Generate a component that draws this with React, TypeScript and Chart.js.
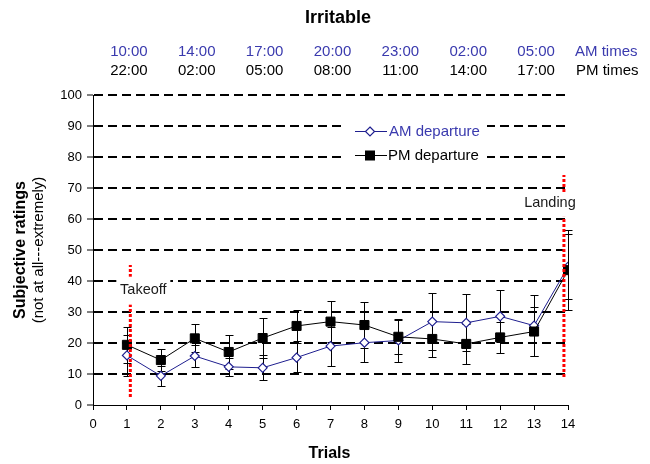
import React, { useEffect, useRef } from 'react';
import { Chart, registerables } from 'chart.js';

Chart.register(...registerables);

const FONT = "'Liberation Sans', Arial, Helvetica, sans-serif";
const AM_LINE = '#1f1f8f';
const AM_TEXT = '#3a3aae';

const chartTitle = 'Irritable';
const xTitle = 'Trials';
const yTitle = 'Subjective ratings';
const ySubTitle = '(not at all---extremely)';

const trials = [1, 2, 3, 4, 5, 6, 7, 8, 9, 10, 11, 12, 13, 14];
const amValues = [16, 9.4, 15.8, 12.3, 12, 15.3, 19, 20.1, 20.8, 26.9, 26.5, 28.6, 25.6, 44.6];
const amErrors = [6.5, 3.3, 3.5, 2.9, 4, 4.6, 6.3, 6.2, 7, 9.2, 9.2, 8.4, 9.8, 10.5];
const pmValues = [19.4, 14.5, 21.5, 17.1, 21.6, 25.5, 26.9, 25.8, 22, 21.3, 19.7, 21.8, 23.7, 43.5];
const pmErrors = [5.9, 3.5, 4.5, 5.5, 6.4, 5, 6.6, 7.4, 5.4, 5.8, 6.5, 5, 8, 13];

const timeTrials = [1, 3, 5, 7, 9, 11, 13];
const amTimes = ['10:00', '14:00', '17:00', '20:00', '23:00', '02:00', '05:00'];
const pmTimes = ['22:00', '02:00', '05:00', '08:00', '11:00', '14:00', '17:00'];
const amTimesLabel = 'AM times';
const pmTimesLabel = 'PM times';

const takeoffLabel = 'Takeoff';
const takeoffX = 1.1;
const takeoffSpan = [2.6, 45.2];
const landingLabel = 'Landing';
const landingX = 13.88;
const landingSpan = [9, 74.2];

const amLegend = 'AM departure';
const pmLegend = 'PM departure';

export default function App() {
  const ref = useRef<HTMLCanvasElement>(null);

  useEffect(() => {
    const canvas = ref.current;
    if (!canvas) return;
    const xy = (vals: number[]) => vals.map((v, i) => ({ x: trials[i], y: v }));

    const drawErr = (ctx: CanvasRenderingContext2D, xs: any, ys: any, vals: number[], errs: number[]) => {
      ctx.save();
      ctx.strokeStyle = '#000';
      ctx.lineWidth = 1;
      ctx.setLineDash([]);
      for (let i = 0; i < vals.length; i++) {
        const x = Math.round(xs.getPixelForValue(trials[i])) + 0.5;
        const t = Math.round(ys.getPixelForValue(vals[i] + errs[i])) + 0.5;
        const b = Math.round(ys.getPixelForValue(vals[i] - errs[i])) + 0.5;
        ctx.beginPath();
        ctx.moveTo(x, t);
        ctx.lineTo(x, b);
        ctx.moveTo(x - 4, t);
        ctx.lineTo(x + 4, t);
        ctx.moveTo(x - 4, b);
        ctx.lineTo(x + 4, b);
        ctx.stroke();
      }
      ctx.restore();
    };

    const overlay = {
      id: 'overlay',
      beforeDatasetsDraw(chart: any) {
        const ctx = chart.ctx;
        const xs = chart.scales.x;
        const ys = chart.scales.y;
        drawErr(ctx, xs, ys, amValues, amErrors);
        drawErr(ctx, xs, ys, pmValues, pmErrors);
      },
      afterDatasetsDraw(chart: any) {
        const ctx: CanvasRenderingContext2D = chart.ctx;
        const xs = chart.scales.x;
        const ys = chart.scales.y;
        ctx.save();
        ctx.font = `14.5px ${FONT}`;
        ctx.textBaseline = 'middle';
        ctx.textAlign = 'center';
        const tx = xs.getPixelForValue(takeoffX) + 13;
        const ty = ys.getPixelForValue(37.2);
        ctx.fillStyle = '#fff';
        ctx.fillRect(tx - 27, ty - 13, 54, 28);
        ctx.fillStyle = '#1a1a1a';
        ctx.fillText(takeoffLabel, tx, ty);
        const lx = xs.getPixelForValue(landingX) - 14;
        const ly = ys.getPixelForValue(65.2);
        ctx.fillStyle = '#fff';
        ctx.fillRect(lx - 29, ly - 10, 58, 24);
        ctx.fillStyle = '#1a1a1a';
        ctx.fillText(landingLabel, lx, ly);

        // legend
        ctx.fillStyle = '#fff';
        ctx.fillRect(345, 116, 142, 50);
        ctx.lineWidth = 1;
        ctx.strokeStyle = AM_LINE;
        ctx.beginPath();
        ctx.moveTo(355, 131.5);
        ctx.lineTo(387, 131.5);
        ctx.stroke();
        ctx.beginPath();
        ctx.moveTo(370, 127);
        ctx.lineTo(374.5, 131.5);
        ctx.lineTo(370, 136);
        ctx.lineTo(365.5, 131.5);
        ctx.closePath();
        ctx.fillStyle = '#fff';
        ctx.fill();
        ctx.lineWidth = 1.2;
        ctx.stroke();
        ctx.strokeStyle = '#000';
        ctx.lineWidth = 1;
        ctx.beginPath();
        ctx.moveTo(355, 155.5);
        ctx.lineTo(387, 155.5);
        ctx.stroke();
        ctx.fillStyle = '#000';
        ctx.fillRect(365, 150.5, 10, 10);
        ctx.font = `15px ${FONT}`;
        ctx.textAlign = 'left';
        ctx.fillStyle = AM_TEXT;
        ctx.fillText(amLegend, 389, 131.5);
        ctx.fillStyle = '#000';
        ctx.fillText(pmLegend, 388, 155.5);
        ctx.restore();
      },
      afterDraw(chart: any) {
        const ctx: CanvasRenderingContext2D = chart.ctx;
        const xs = chart.scales.x;
        const area = chart.chartArea;
        ctx.save();
        ctx.textBaseline = 'middle';
        ctx.textAlign = 'center';
        ctx.fillStyle = '#000';
        ctx.font = `bold 18px ${FONT}`;
        ctx.fillText(chartTitle, 338, 18);
        ctx.font = `15px ${FONT}`;
        for (let i = 0; i < timeTrials.length; i++) {
          const x = xs.getPixelForValue(timeTrials[i]) + 2;
          ctx.fillStyle = AM_TEXT;
          ctx.fillText(amTimes[i], x, 52);
          ctx.fillStyle = '#000';
          ctx.fillText(pmTimes[i], x, 70.5);
        }
        ctx.textAlign = 'left';
        ctx.fillStyle = AM_TEXT;
        ctx.fillText(amTimesLabel, 575, 52);
        ctx.fillStyle = '#000';
        ctx.fillText(pmTimesLabel, 576, 70.5);

        ctx.textAlign = 'center';
        ctx.font = `bold 16px ${FONT}`;
        ctx.fillText(xTitle, (area.left + area.right) / 2 - 1, 454);

        const cy = (area.top + area.bottom) / 2;
        ctx.translate(21, cy);
        ctx.rotate(-Math.PI / 2);
        ctx.font = `bold 16px ${FONT}`;
        ctx.fillText(yTitle, 0, 0);
        ctx.font = `15px ${FONT}`;
        ctx.fillText(ySubTitle, 0, 18);
        ctx.restore();
      },
    };

    const chart = new Chart(canvas, {
      type: 'line',
      data: {
        datasets: [
          {
            label: 'takeoff',
            data: [{ x: takeoffX, y: takeoffSpan[0] }, { x: takeoffX, y: takeoffSpan[1] }],
            borderColor: '#ff0000',
            borderWidth: 3,
            borderDash: [3, 2],
            pointRadius: 0,
            order: 0,
          },
          {
            label: 'landing',
            data: [{ x: landingX, y: landingSpan[0] }, { x: landingX, y: landingSpan[1] }],
            borderColor: '#ff0000',
            borderWidth: 3,
            borderDash: [3, 2],
            pointRadius: 0,
            order: 0,
          },
          {
            label: pmLegend,
            data: xy(pmValues),
            borderColor: '#000',
            backgroundColor: '#000',
            borderWidth: 1,
            pointStyle: 'rect',
            pointRadius: 6.4,
            pointBorderWidth: 1,
            pointBackgroundColor: '#000',
            pointBorderColor: '#000',
            order: 1,
          },
          {
            label: amLegend,
            data: xy(amValues),
            borderColor: AM_LINE,
            backgroundColor: '#fff',
            borderWidth: 1,
            pointStyle: 'rectRot',
            pointRadius: 4.5,
            pointBorderWidth: 1.2,
            pointBackgroundColor: '#fff',
            pointBorderColor: AM_LINE,
            order: 2,
          },
        ] as any,
      },
      options: {
        animation: false,
        responsive: false,
        events: [],
        layout: { padding: { top: 95, right: 82, bottom: 0, left: 0 } },
        plugins: {
          legend: { display: false },
          title: { display: false },
          tooltip: { enabled: false },
        },
        scales: {
          x: {
            type: 'linear',
            min: 0,
            max: 14,
            afterFit: (s: any) => {
              s.height = 59;
            },
            ticks: {
              stepSize: 1,
              color: '#000',
              font: { family: FONT, size: 13 },
              padding: 7,
              maxRotation: 0,
            },
            grid: {
              drawOnChartArea: false,
              drawTicks: true,
              tickLength: 5,
              tickColor: '#000',
              tickWidth: 1,
              color: '#000',
            },
            border: { color: '#000', width: 1 },
          },
          y: {
            type: 'linear',
            min: 0,
            max: 100,
            afterFit: (s: any) => {
              s.width = 93;
            },
            ticks: {
              stepSize: 10,
              color: '#000',
              font: { family: FONT, size: 13 },
              padding: 5,
            },
            grid: {
              color: (c: any) => (c.tick && c.tick.value === 0 ? 'rgba(0,0,0,0)' : '#000'),
              lineWidth: 2,
              drawTicks: true,
              tickLength: 6,
              tickColor: '#000',
              tickWidth: 1,
              tickBorderDash: [],
            },
            border: { color: '#000', width: 1, dash: [9, 5] },
          },
        },
      } as any,
      plugins: [overlay],
    });

    return () => chart.destroy();
  }, []);

  return (
    <div style={{ position: 'absolute', left: 0, top: 0, width: 650, height: 464, background: '#fff' }}>
      <canvas ref={ref} width={650} height={464} style={{ display: 'block' }} />
    </div>
  );
}
